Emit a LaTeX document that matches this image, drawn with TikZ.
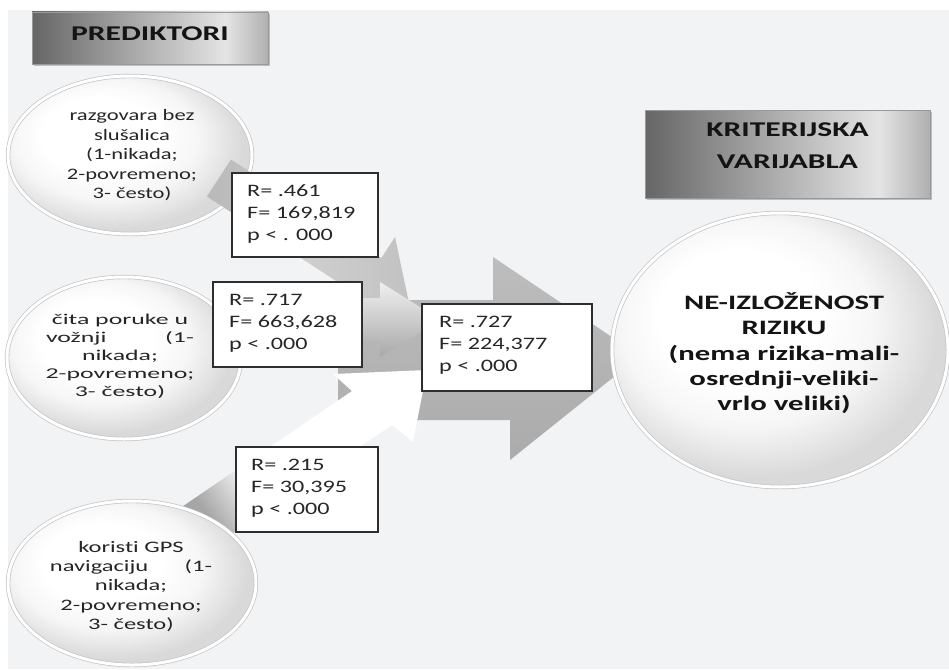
\documentclass[tikz,border=0pt]{standalone}
\usepackage{fontspec}
\setmainfont{Carlito}[Ligatures=NoCommon]
\usepackage{graphicx}
\usetikzlibrary{shapes.geometric,shadows}

\definecolor{bggray}{HTML}{F2F3F5}
\definecolor{ellgray}{HTML}{D9D9D9}
\definecolor{ellmid}{HTML}{F6F6F6}
\definecolor{rimgray}{HTML}{C4C4C4}
\definecolor{txtc}{HTML}{262626}
\definecolor{hdA}{HTML}{666666}
\definecolor{hdB}{HTML}{A4A4A4}
\definecolor{hdC}{HTML}{E4E4E4}
\definecolor{hdD}{HTML}{B0B0B0}
\definecolor{arrDl}{HTML}{BDBDBD}
\definecolor{arrDd}{HTML}{ABABAB}
\definecolor{arrA}{HTML}{C2C2C2}
\definecolor{arrC}{HTML}{A6A6A6}
\definecolor{boxline}{HTML}{2E2E2E}

\pgfdeclareradialshading{glossy}{\pgfpoint{-8bp}{8bp}}{color(0bp)=(white); color(12bp)=(white); color(19bp)=(ellmid); color(27bp)=(ellgray); color(50bp)=(ellgray)}
\pgfdeclarehorizontalshading{hdrshade}{100bp}{color(0bp)=(hdA); color(25bp)=(hdA); color(45bp)=(hdB); color(66bp)=(hdC); color(75bp)=(hdD); color(100bp)=(hdD)}
\pgfdeclarehorizontalshading{cshade}{100bp}{color(0bp)=(arrC); color(27bp)=(arrC); color(38bp)=(white!88!gray); color(48bp)=(white); color(100bp)=(white)}

\newcommand{\sx}[2]{\scalebox{#1}[1]{#2}}
\newcommand{\statlines}[3]{\sx{1.38}{\fontsize{17.5}{22}\selectfont\begin{tabular}{@{}l@{}}#1\\#2\\#3\end{tabular}}}

\tikzset{
  ell/.style={ellipse, inner sep=0pt, shade, shading=glossy, draw=rimgray, line width=0.7pt, double=white, double distance=3pt},
  statbox/.style={rectangle, draw=boxline, line width=1.3pt, fill=white, inner sep=0pt},
  hdrbox/.style={rectangle, draw=gray!80, line width=0.8pt, shade, shading=hdrshade, inner sep=0pt,
     drop shadow={shadow xshift=2pt, shadow yshift=-2pt, fill=black, opacity=0.22}},
  etxt/.style={inner sep=0pt, text=txtc},
  stxt/.style={inner sep=0pt, text=txtc, anchor=west},
  htxt/.style={inner sep=0pt, text=black!92, font=\bfseries}
}

\begin{document}
\begin{tikzpicture}[x=1pt,y=-1pt]
\useasboundingbox (0,0) rectangle (949,669);
\fill[white] (0,0) rectangle (949,669);
\fill[bggray] (8,10) rectangle (949,669);

% big converging arrow
\shade[top color=arrDl, bottom color=arrDd]
  (338,300) -- (493,300) -- (493,257) -- (640,356) -- (510,460) -- (510,420) -- (338,420) -- cycle;

% first predictor ellipse (arrow A lies over it)
\node[ell, minimum width=244pt, minimum height=158pt] (e1) at (130,155) {};

% arrow A
\shade[left color=arrA!95!black, right color=arrA, middle color=arrA!80!white]
  (207,196.5) -- (231,159.5) -- (381.4,258) -- (395,237) -- (408.8,302) -- (343.8,315.8) -- (357.4,294.9) -- cycle;

% arrow B
\shade[top color=white!88!gray, middle color=white!97!gray, bottom color=gray!68]
  (225,298) -- (380,298) -- (380,282) -- (441,320) -- (380,357) -- (380,340) -- (225,340) -- cycle;

% arrow C
\shade[shading=cshade, shading angle=34]
  (170,515) -- (352,391) -- (333,374) -- (427,370) -- (413,442) -- (392,425) -- (199,556) -- cycle;

% other ellipses
\node[ell, minimum width=234pt, minimum height=162pt] (e2) at (124,358) {};
\node[ell, minimum width=248pt, minimum height=164pt] (e3) at (132,583) {};
\node[ell, minimum width=336pt, minimum height=274pt] (ec) at (780,350) {};

% ellipse texts
\node[etxt] (t1) at (132,156) {\sx{1.41}{\fontsize{16}{19.5}\selectfont\begin{tabular}{@{}c@{}}razgovara bez\\slušalica\\(1-nikada;\\2-povremeno;\\3- često)\end{tabular}}};
\node[etxt] (t2) at (120,357) {\sx{1.72}{\fontsize{15}{18}\selectfont\begin{tabular}{@{}c@{}}čita poruke u\\\makebox[86pt]{vožnji\hfill(1-}\\nikada;\\2-povremeno;\\3- često)\end{tabular}}};
\node[etxt] (t3) at (131,587) {\sx{1.53}{\fontsize{16}{19.2}\selectfont\begin{tabular}{@{}c@{}}koristi GPS\\\makebox[106pt]{navigaciju\hfill(1-}\\nikada;\\2-povremeno;\\3- često)\end{tabular}}};
\node[htxt] (tc) at (784,355) {\sx{1.5}{\fontsize{20.5}{25.3}\selectfont\begin{tabular}{@{}c@{}}NE-IZLOŽENOST\\RIZIKU\\(nema rizika-mali-\\osrednji-veliki-\\vrlo veliki)\end{tabular}}};

% statistics boxes
\node[statbox, minimum width=146pt, minimum height=84pt] (b1) at (305,215) {};
\node[statbox, minimum width=149pt, minimum height=85pt] (b2) at (287.5,324.5) {};
\node[statbox, minimum width=170pt, minimum height=87pt] (b3) at (507,347.5) {};
\node[statbox, minimum width=142pt, minimum height=85pt] (b4) at (307,489.5) {};
\node[stxt] (s1) at (247,214) {\statlines{R= .461}{F= 169,819}{p < . 000}};
\node[stxt] (s2) at (229,323) {\statlines{R= .717}{F= 663,628}{p < .000}};
\node[stxt] (s3) at (439,345.5) {\statlines{R= .727}{F= 224,377}{p < .000}};
\node[stxt] (s4) at (251,488) {\statlines{R= .215}{F= 30,395}{p < .000}};

% header boxes
\node[hdrbox, minimum width=236pt, minimum height=52pt] (hp) at (150,38) {};
\node[hdrbox, minimum width=285pt, minimum height=88pt] (hk) at (787.5,154) {};
\node[htxt] (hpt) at (150,34) {\sx{1.5}{\fontsize{21}{25}\selectfont PREDIKTORI}};
\node[htxt] (hkt) at (787.5,146) {\sx{1.5}{\fontsize{21}{32}\selectfont\begin{tabular}{@{}c@{}}KRITERIJSKA\\VARIJABLA\end{tabular}}};
\end{tikzpicture}
\end{document}
